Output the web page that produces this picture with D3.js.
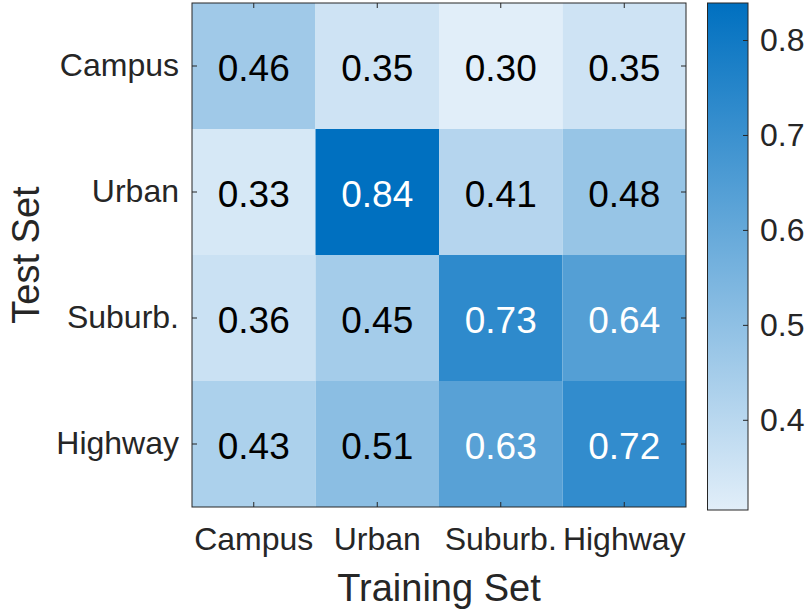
<!DOCTYPE html>
<html>
<head>
<meta charset="utf-8">
<script src="https://cdn.jsdelivr.net/npm/d3@7"></script>
<style>
  body { margin: 0; background: #fff; }
  text { font-family: "Liberation Sans", Arial, Helvetica, sans-serif; }
</style>
</head>
<body>
<div id="chart"></div>
<script>
// categories and values
var trainSets = ["Campus", "Urban", "Suburb.", "Highway"];
var testSets = ["Campus", "Urban", "Suburb.", "Highway"];
// rows = test set, columns = training set
var campusRow = [0.46, 0.35, 0.30, 0.35];
var urbanRow = [0.33, 0.84, 0.41, 0.48];
var suburbRow = [0.36, 0.45, 0.73, 0.64];
var highwayRow = [0.43, 0.51, 0.63, 0.72];
var colorLimits = [0.305, 0.839];
var colorbarTicks = [0.4, 0.5, 0.6, 0.7, 0.8];

var rows = [campusRow, urbanRow, suburbRow, highwayRow];
var cells = [];
rows.forEach(function(r, i) {
  r.forEach(function(v, j) {
    cells.push({test: testSets[i], train: trainSets[j], value: v});
  });
});

var width = 807, height = 611;
var plot = {left: 192, top: 3, right: 686, bottom: 507};
var cbar = {left: 707.5, right: 748, top: 3, bottom: 510};
var axisColor = "#262626";

var svg = d3.select("#chart")
  .append("svg")
    .attr("width", width)
    .attr("height", height);

var x = d3.scaleBand()
  .domain(trainSets)
  .range([plot.left, plot.right]);
var y = d3.scaleBand()
  .domain(testSets)
  .range([plot.top, plot.bottom]);

var color = d3.scaleLinear()
  .domain(colorLimits)
  .range(["#e1eef9", "#0070c0"])
  .clamp(true);

// cells
svg.selectAll("rect.cell")
  .data(cells)
  .enter()
  .append("rect")
    .attr("class", "cell")
    .attr("x", function(d) { return x(d.train); })
    .attr("y", function(d) { return y(d.test); })
    .attr("width", x.bandwidth())
    .attr("height", y.bandwidth())
    .attr("fill", function(d) { return color(d.value); });

svg.selectAll("text.val")
  .data(cells)
  .enter()
  .append("text")
    .attr("class", "val")
    .attr("x", function(d) { return x(d.train) + x.bandwidth() / 2; })
    .attr("y", function(d) { return y(d.test) + y.bandwidth() / 2 + 2; })
    .attr("dy", "0.35em")
    .attr("text-anchor", "middle")
    .style("font-size", "37px")
    .attr("fill", function(d) { return d.value > 0.6 ? "#fff" : "#000"; })
    .text(function(d) { return d.value.toFixed(2); });

// axes with inward ticks on all four sides
var xb = svg.append("g")
  .attr("transform", "translate(0," + plot.bottom + ")")
  .call(d3.axisBottom(x).tickSizeInner(-5).tickSizeOuter(0));
xb.selectAll("text")
  .attr("y", 43)
  .attr("dy", 0)
  .style("font-size", "32px")
  .attr("fill", axisColor);

var yl = svg.append("g")
  .attr("transform", "translate(" + plot.left + ",0)")
  .call(d3.axisLeft(y).tickSizeInner(-5).tickSizeOuter(0).tickPadding(13));
yl.selectAll("text")
  .style("font-size", "32px")
  .attr("fill", axisColor);

svg.append("g")
  .attr("transform", "translate(0," + plot.top + ")")
  .call(d3.axisTop(x).tickSizeInner(-5).tickSizeOuter(0).tickFormat(""));
svg.append("g")
  .attr("transform", "translate(" + plot.right + ",0)")
  .call(d3.axisRight(y).tickSizeInner(-5).tickSizeOuter(0).tickFormat(""));

svg.selectAll(".domain").attr("stroke", "none");
svg.selectAll(".tick line").attr("stroke", axisColor);

svg.append("rect")
  .attr("x", plot.left)
  .attr("y", plot.top)
  .attr("width", plot.right - plot.left)
  .attr("height", plot.bottom - plot.top)
  .attr("fill", "none")
  .attr("stroke", axisColor)
  .attr("stroke-width", 1);

// axis titles
svg.append("text")
  .text("Training Set")
  .attr("x", (plot.left + plot.right) / 2)
  .attr("y", 601)
  .attr("text-anchor", "middle")
  .style("font-size", "38px")
  .attr("fill", axisColor);

svg.append("text")
  .text("Test Set")
  .attr("transform", "translate(39," + (plot.top + plot.bottom) / 2 + ") rotate(-90)")
  .attr("text-anchor", "middle")
  .style("font-size", "38px")
  .attr("fill", axisColor);

// colorbar
var cy = d3.scaleLinear()
  .domain(colorLimits)
  .range([cbar.bottom, cbar.top]);

var grad = svg.append("defs")
  .append("linearGradient")
    .attr("id", "cbgrad")
    .attr("x1", 0).attr("y1", 1)
    .attr("x2", 0).attr("y2", 0);
grad.append("stop").attr("offset", "0%").attr("stop-color", color(colorLimits[0]));
grad.append("stop").attr("offset", "100%").attr("stop-color", color(colorLimits[1]));

svg.append("rect")
  .attr("x", cbar.left)
  .attr("y", cbar.top)
  .attr("width", cbar.right - cbar.left)
  .attr("height", cbar.bottom - cbar.top)
  .attr("fill", "url(#cbgrad)")
  .attr("stroke", axisColor)
  .attr("stroke-width", 1);

var cb = svg.append("g")
  .attr("transform", "translate(" + cbar.right + ",0)")
  .call(d3.axisRight(cy).tickValues(colorbarTicks).tickFormat(d3.format(".1f"))
    .tickSizeInner(-5).tickSizeOuter(0).tickPadding(12));
cb.select(".domain").attr("stroke", "none");
cb.selectAll(".tick line").attr("stroke", axisColor);
cb.selectAll("text")
  .style("font-size", "32px")
  .attr("fill", axisColor);
</script>
</body>
</html>
